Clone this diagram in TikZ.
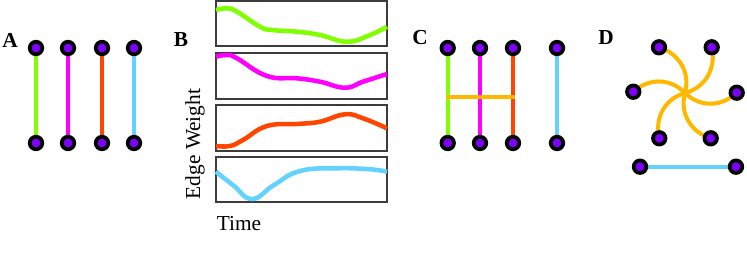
\documentclass[tikz,border=0pt]{standalone}
\usepackage{fontspec}
\setmainfont{Liberation Serif}
\usetikzlibrary{calc}
\definecolor{figgreen}{RGB}{128,255,0}
\definecolor{figpink}{RGB}{255,0,255}
\definecolor{figred}{RGB}{255,69,0}
\definecolor{figcyan}{RGB}{100,210,255}
\definecolor{figyellow}{RGB}{255,184,0}
\definecolor{figviolet}{RGB}{128,0,255}
\definecolor{figgray}{RGB}{60,60,60}
\newcommand{\rowTop}{48}
\newcommand{\rowBot}{143}
\tikzset{
  pdot/.style   ={circle,draw=black,fill=figviolet,line width=2.8pt,inner sep=0pt,minimum size=9.4pt},
  fgline/.style ={line width=3pt},
  gedge/.style  ={fgline,figgreen},
  medge/.style  ={fgline,figpink},
  redge/.style  ={fgline,figred},
  cedge/.style  ={fgline,figcyan},
  yedge/.style  ={fgline,figyellow},
  wframe/.style ={draw=figgray,line width=1.1pt},
  wcurve/.style ={line width=3.4pt,smooth,tension=0.75},
  plab/.style   ={inner sep=0pt,font=\fontsize{16}{19}\selectfont\bfseries},
  axlab/.style  ={inner sep=0pt,font=\fontsize{16}{19}\selectfont},
}
\pgfdeclarelayer{fgedges}
\pgfsetlayers{fgedges,main}
\newcommand{\vpair}[3]{%
  \node[pdot] (#1t) at (#2,\rowTop) {};
  \node[pdot] (#1b) at (#2,\rowBot) {};
  \begin{pgfonlayer}{fgedges}\draw[#3] (#1t) -- (#1b);\end{pgfonlayer}%
}
\newcommand{\wbox}[2]{\draw[wframe] (216,#1) rectangle (387,#2);}

\begin{document}
\begin{tikzpicture}[x=0.75pt,y=-0.75pt]
  \useasboundingbox (0,0) rectangle (747,258);
  % A
  \node[plab] (labA) at (10,40) {A};
  \vpair{Aa}{36}{gedge} \vpair{Ab}{68}{medge}
  \vpair{Ac}{102}{redge} \vpair{Ad}{134}{cedge}
  % B
  \node[plab] (labB) at (181,40) {B};
  \wbox{1}{46} \wbox{53}{99} \wbox{105}{151} \wbox{157}{202}
  \draw[wcurve,figgreen] plot coordinates {(216,10) (227,8.3) (237,11.7) (260,26.7) (272,30) (297,31.7) (320,35) (347,41.7) (370,35) (387,26.7)};
  \draw[wcurve,figpink] plot coordinates {(216,56.7) (227,55) (237,58.3) (267,76) (297,78.3) (320,81.7) (345,87.7) (363,81.7) (387,74)};
  \draw[wcurve,figred] plot coordinates {(216,146) (230,146) (243,140) (267,126) (297,124) (320,121.7) (345,114.3) (363,118.3) (387,128.3)};
  \draw[wcurve,figcyan] plot coordinates {(216,171.7) (233,185) (252,199) (274,185) (300,171) (337,168.3) (370,169.3) (387,171.7)};
  \node[axlab,rotate=90] (wlab) at (195,144) {Edge Weight};
  \node[axlab] (tlab) at (239,224) {Time};
  % C
  \node[plab] (labC) at (420,38) {C};
  \vpair{Ca}{447.7}{gedge} \vpair{Cb}{480}{medge}
  \vpair{Cc}{513}{redge} \vpair{Cd}{557}{cedge}
  \coordinate (Cha) at ($(Cat)!0.514!(Cab)$);
  \coordinate (Chc) at ($(Cct)!0.514!(Ccb)$);
  \begin{pgfonlayer}{fgedges}\draw[yedge,line cap=rect] (Cha) -- (Chc);\end{pgfonlayer}
  % D
  \node[plab] (labD) at (606,38) {D};
  \coordinate (Dc) at (685,93);
  \node[pdot] (Dtl) at (659,47.3) {};   \node[pdot] (Dtr) at (711.7,47.3) {};
  \node[pdot] (Dl) at (633.3,91.7) {};  \node[pdot] (Dr) at (736.7,92.7) {};
  \node[pdot] (Dbl) at (659.3,138.3) {}; \node[pdot] (Dbr) at (710.7,138.3) {};
  \node[pdot] (Dsl) at (640,166.7) {};  \node[pdot] (Dsr) at (736,166.7) {};
  \begin{pgfonlayer}{fgedges}
    \foreach \n in {Dtl,Dtr,Dr,Dbr,Dbl,Dl}{ \draw[yedge] (Dc) to[bend right=38] (\n); }
    \draw[cedge] (Dsl) -- (Dsr);
  \end{pgfonlayer}
\end{tikzpicture}
\end{document}
